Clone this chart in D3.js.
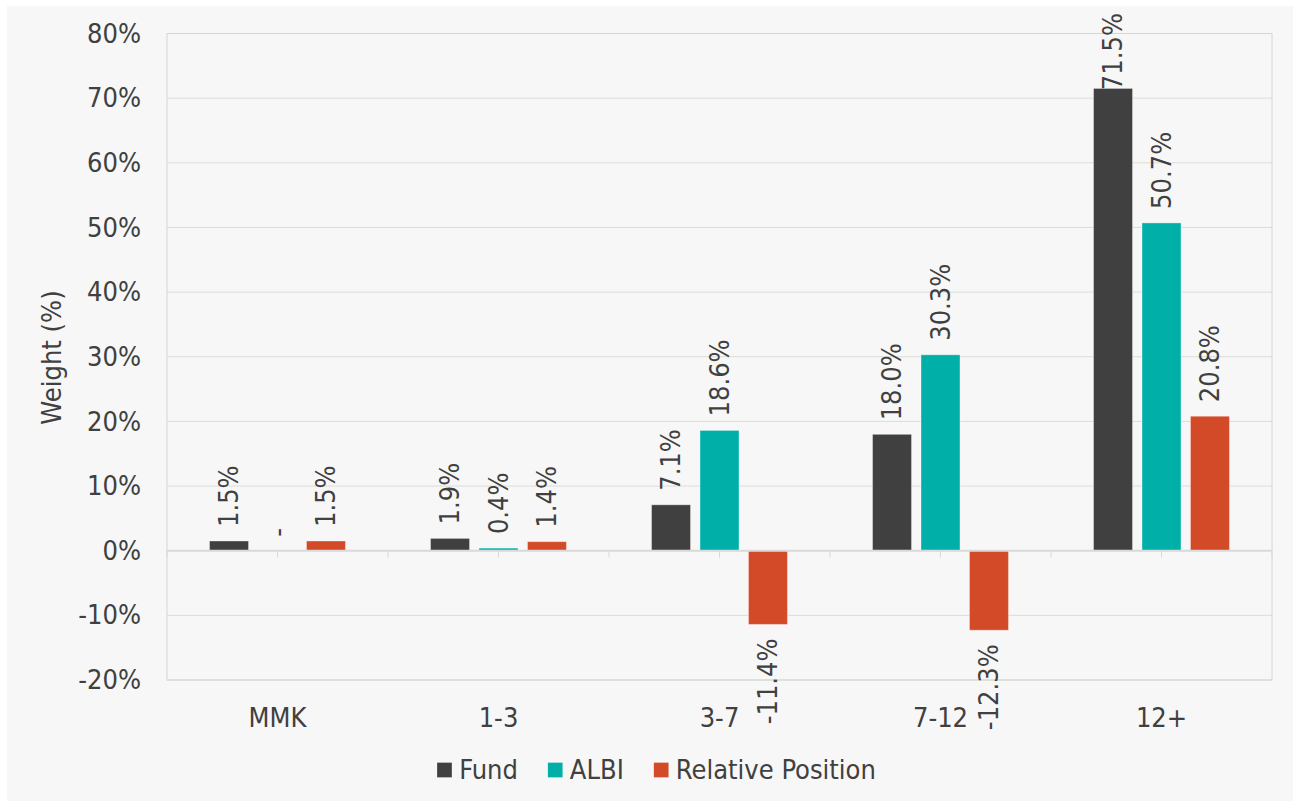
<!DOCTYPE html>
<html>
<head>
<meta charset="utf-8">
<script src="https://cdn.jsdelivr.net/npm/d3@7"></script>
<style>
  html, body { margin: 0; padding: 0; background: #ffffff; }
  svg { display: block; }
  text { font-family: "DejaVu Sans Condensed", "DejaVu Sans", sans-serif; font-stretch: condensed; fill: #404040; }
</style>
</head>
<body>
<svg id="chart" width="1293" height="801"></svg>
<script>
// Duration buckets and portfolio weights (%)
const categories = ["MMK", "1-3", "3-7", "7-12", "12+"];
const fund = [1.5, 1.9, 7.1, 18.0, 71.5];
const albi = [0.0, 0.4, 18.6, 30.3, 50.7];
const relative = [1.5, 1.4, -11.4, -12.3, 20.8];
const seriesNames = ["Fund", "ALBI", "Relative Position"];
const seriesColors = ["#404040", "#00b0a8", "#d34a29"];
const yTicks = [-20, -10, 0, 10, 20, 30, 40, 50, 60, 70, 80];
const yTitle = "Weight (%)";

const seriesValues = [fund, albi, relative];

const svg = d3.select("#chart");
const plot = { left: 167, right: 1272, top: 33.5, bottom: 680 };
const fontSize = 27;
const labelTopLimit = 13;

// panel background
svg.append("rect")
  .attr("x", 7).attr("y", 6)
  .attr("width", 1286).attr("height", 795)
  .attr("fill", "#f7f7f7");

const y = d3.scaleLinear().domain([-20, 80]).range([plot.bottom, plot.top]);
const x0 = d3.scaleBand().domain(categories).range([plot.left, plot.right]).padding(0);
const groupWidth = x0.bandwidth() * 0.658;
const x1 = d3.scaleBand().domain(seriesNames)
  .range([(x0.bandwidth() - groupWidth) / 2, (x0.bandwidth() + groupWidth) / 2])
  .paddingInner(0.196).paddingOuter(0.098);

// gridlines
svg.append("g").selectAll("line")
  .data(yTicks.filter(t => t !== 0))
  .join("line")
  .attr("x1", plot.left).attr("x2", plot.right)
  .attr("y1", d => y(d)).attr("y2", d => y(d))
  .attr("stroke", "#dcdcd6").attr("stroke-width", 1);

// plot frame
svg.append("rect")
  .attr("x", plot.left).attr("y", plot.top)
  .attr("width", plot.right - plot.left).attr("height", plot.bottom - plot.top)
  .attr("fill", "none").attr("stroke", "#d6d6cf").attr("stroke-width", 1);

// y axis labels (hyphen-minus for negatives)
const pct = v => String(v).replace("\u2212", "-") + "%";
const yAxis = d3.axisLeft(y).tickValues(yTicks).tickFormat(pct).tickSize(0).tickPadding(26);
const yg = svg.append("g").attr("transform", `translate(${plot.left},0)`).call(yAxis);
yg.select(".domain").remove();
yg.selectAll("text").style("font-size", fontSize + "px").attr("fill", "#404040")
  .style("font-family", null);

// y axis title
svg.append("text")
  .attr("transform", `translate(61,${(288 + 427) / 2}) rotate(-90)`)
  .attr("text-anchor", "middle")
  .style("font-size", fontSize + "px")
  .text(yTitle);

// bars
const groups = svg.append("g").selectAll("g")
  .data(categories)
  .join("g")
  .attr("transform", d => `translate(${x0(d)},0)`);

groups.each(function(cat, ci) {
  const g = d3.select(this);
  seriesNames.forEach((s, si) => {
    const v = seriesValues[si][ci];
    g.append("rect")
      .attr("x", x1(s))
      .attr("y", y(Math.max(0, v)))
      .attr("width", x1.bandwidth())
      .attr("height", Math.abs(y(v) - y(0)))
      .attr("fill", seriesColors[si])
      .attr("stroke", "rgba(255,255,255,0.35)")
      .attr("stroke-width", 1);
  });
});

// zero line and category ticks
svg.append("line")
  .attr("x1", plot.left).attr("x2", plot.right)
  .attr("y1", y(0)).attr("y2", y(0))
  .attr("stroke", "#d9d9d9").attr("stroke-width", 2);

const tickPositions = [];
categories.forEach(c => {
  tickPositions.push(x0(c));
  tickPositions.push(x0(c) + x0.bandwidth() / 2);
});
tickPositions.push(plot.right);
svg.append("g").selectAll("line")
  .data(tickPositions)
  .join("line")
  .attr("x1", d => d).attr("x2", d => d)
  .attr("y1", y(0)).attr("y2", y(0) + 7)
  .attr("stroke", "#d9d9d9").attr("stroke-width", 1);

// x axis labels
const xAxis = d3.axisBottom(x0).tickSize(0).tickPadding(0);
const xg = svg.append("g").attr("transform", `translate(0,${plot.bottom})`).call(xAxis);
xg.select(".domain").remove();
xg.selectAll("text")
  .style("font-size", fontSize + "px").style("font-family", null)
  .attr("fill", "#404040")
  .attr("y", 47).attr("dy", null);

// value labels, kept inside the chart area at the top
const fmt = v => v === 0 ? "-" : d3.format(".1f")(v).replace("\u2212", "-") + "%";
groups.each(function(cat, ci) {
  const g = d3.select(this);
  seriesNames.forEach((s, si) => {
    const v = seriesValues[si][ci];
    const cx = x1(s) + x1.bandwidth() / 2;
    const neg = v < 0;
    const t = g.append("text")
      .attr("text-anchor", neg ? "end" : "start")
      .attr("dy", "0.35em")
      .style("font-size", fontSize + "px")
      .text(fmt(v));
    let yy = neg ? y(v) + 14 : y(v) - 14;
    if (!neg) {
      const len = t.node().getComputedTextLength();
      if (yy - len < labelTopLimit) yy = labelTopLimit + len;
    }
    t.attr("transform", `translate(${cx},${yy}) rotate(-90)`);
  });
});

// legend
const legend = svg.append("g");
const items = legend.selectAll("g").data(seriesNames).join("g");
items.append("rect")
  .attr("width", 14.7).attr("height", 14.7)
  .attr("y", -14.7 / 2)
  .attr("fill", (d, i) => seriesColors[i]);
items.append("text")
  .attr("x", 22).attr("dy", "0.35em")
  .style("font-size", fontSize + "px")
  .text(d => d);
let offset = 0;
const widths = [];
items.each(function() {
  const w = 22 + d3.select(this).select("text").node().getComputedTextLength();
  widths.push(w);
});
const gap = 30;
const total = d3.sum(widths) + gap * (widths.length - 1);
const startX = 656.5 - total / 2;
items.attr("transform", (d, i) => {
  const tx = startX + offset;
  offset += widths[i] + gap;
  return `translate(${tx},770)`;
});
</script>
</body>
</html>
